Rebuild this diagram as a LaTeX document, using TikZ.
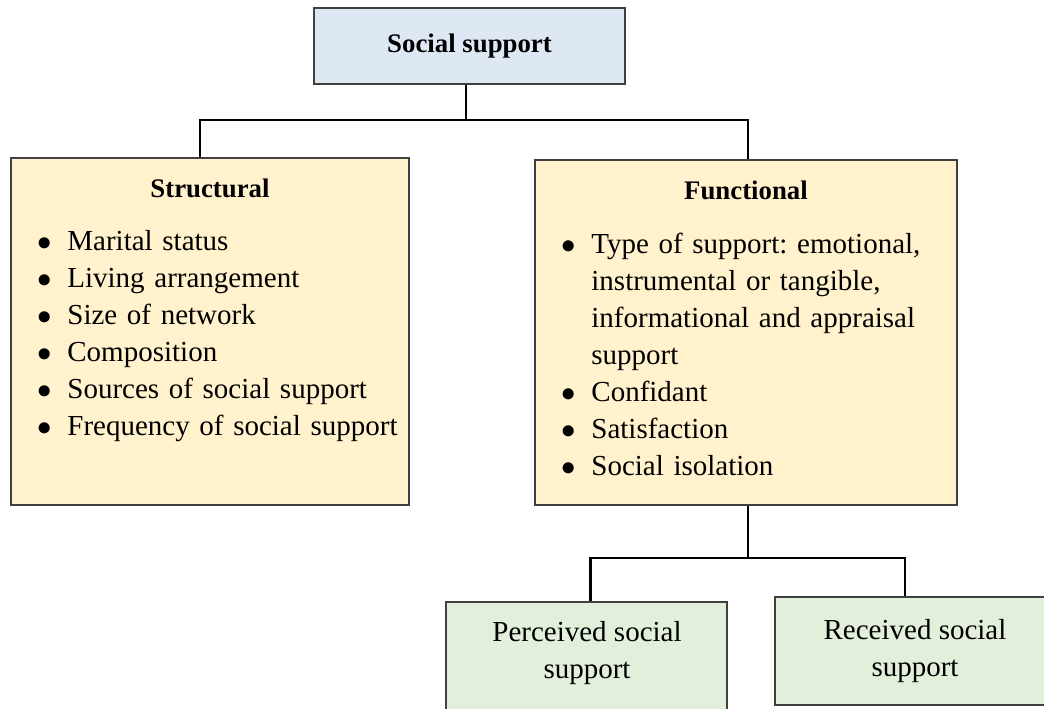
\documentclass[tikz,border=0pt]{standalone}
\usepackage{fontspec}
\setmainfont{Liberation Serif}
\usepackage{enumitem}
\usetikzlibrary{positioning}
\definecolor{bleu}{HTML}{DEE8F4}
\definecolor{jaune}{HTML}{FFF2CC}
\definecolor{vert}{HTML}{E2EFDA}
\definecolor{bord}{HTML}{404040}
\frenchspacing

\begin{document}
\begin{tikzpicture}[x=0.5pt,y=-0.5pt,
  boite/.style={draw=bord,line width=0.7pt,inner sep=0pt},
  lien/.style={line width=1.4pt},
  titre/.style={font=\fontsize{13.4}{16}\selectfont\bfseries},
  texte/.style={font=\fontsize{14.5}{18.5}\selectfont},
  liste/.style={texte,anchor=north west,text width=200pt,inner sep=0pt}]
\useasboundingbox (0,0) rectangle (1044,708);

% les boites
\node[boite,fill=bleu,minimum width=155.5pt,minimum height=38pt,titre] (social) at (469.5,46) {Social support};
\node[boite,fill=jaune,minimum width=199pt,minimum height=173.5pt] (struct) at (210,331.5) {};
\node[boite,fill=jaune,minimum width=211pt,minimum height=172.5pt] (func) at (746,332.5) {};
\node[boite,fill=vert,minimum width=140.5pt,minimum height=60pt] (perc) at (586.5,662) {};
\node[boite,fill=vert,minimum width=140pt,minimum height=54pt,texte,align=center] (recv) at (915,651) {Received social\\support};

% les textes
\node[titre] (struct-t) at (210,188) {Structural};
\node[titre] (func-t) at (746,190) {Functional};
\node[texte,align=center] (perc-t) at (587,653) {Perceived social\\support};

\node[liste] (struct-l) at (35,213) {\raggedright
\begin{itemize}[label=$\bullet$,leftmargin=16pt,labelsep=8pt,itemsep=0pt,topsep=0pt,parsep=0pt,partopsep=0pt]
\item Marital status
\item Living arrangement
\item Size of network
\item Composition
\item Sources of social support
\item Frequency of social support
\end{itemize}};

\node[liste] (func-l) at (559,216) {\raggedright
\begin{itemize}[label=$\bullet$,leftmargin=16pt,labelsep=8pt,itemsep=0pt,topsep=0pt,parsep=0pt,partopsep=0pt]
\item Type of support: emotional,\newline instrumental or tangible,\newline informational and appraisal\newline support
\item Confidant
\item Satisfaction
\item Social isolation
\end{itemize}};

% les liens
\coordinate (haut) at (466,120);
\coordinate (bas) at (748,558);
\draw[lien] (haut |- social.south) -- (haut);
\draw[lien] ([xshift=-5pt]struct.north) |- (haut) -| ([xshift=1pt]func.north);
\draw[lien] ([xshift=1pt]func.south) -- (bas);
\draw[lien] ([xshift=2pt]perc.north) |- (bas) -| ([xshift=-5pt]recv.north);
\end{tikzpicture}
\end{document}
